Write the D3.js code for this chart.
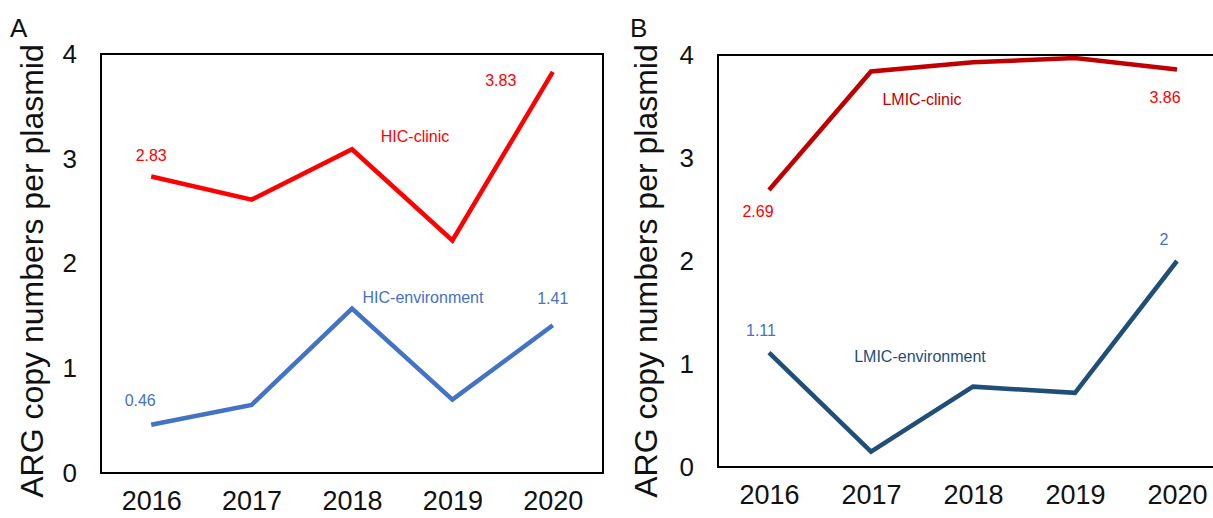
<!DOCTYPE html>
<html>
<head>
<meta charset="utf-8">
<script src="https://cdn.jsdelivr.net/npm/d3@7"></script>
<style>
  html, body { margin: 0; padding: 0; background: #fff; }
  svg { display: block; font-family: "Liberation Sans", Arial, sans-serif; }
</style>
</head>
<body>
<svg id="chart" width="1213" height="518"></svg>
<script>
// Years on the x axis and y tick values
const years = ["2016", "2017", "2018", "2019", "2020"];
const yTicks = [0, 1, 2, 3, 4];

// ARG copy numbers per plasmid
const hicClinic = [2.83, 2.61, 3.09, 2.22, 3.83];
const hicEnvironment = [0.46, 0.65, 1.57, 0.70, 1.41];
const lmicClinic = [2.69, 3.84, 3.93, 3.97, 3.86];
const lmicEnvironment = [1.11, 0.15, 0.78, 0.72, 2];

const svg = d3.select("#chart");
const FONT = "Liberation Sans, Arial, sans-serif";

function panel(opts) {
  const x = d3.scalePoint().domain(years).range([opts.left, opts.right]).padding(0.5);
  const y = d3.scaleLinear().domain([0, 4]).range([opts.bottom, opts.top]);
  const g = svg.append("g");

  // frame
  g.append("rect")
    .attr("x", opts.left).attr("y", opts.top)
    .attr("width", opts.right - opts.left).attr("height", opts.bottom - opts.top)
    .attr("fill", "none").attr("stroke", "#000").attr("stroke-width", 2);

  // y axis labels
  const yAxis = d3.axisLeft(y).tickValues(yTicks).tickFormat(d3.format("d"))
    .tickSize(0).tickPadding(opts.yPad);
  g.append("g").attr("transform", `translate(${opts.left},0)`).call(yAxis)
    .call(s => s.select(".domain").remove())
    .selectAll("text").attr("font-size", 26).attr("fill", "#111").attr("font-family", FONT);

  // x axis labels
  const xAxis = d3.axisBottom(x).tickSize(0).tickPadding(opts.xPad);
  g.append("g").attr("transform", `translate(0,${opts.bottom})`).call(xAxis)
    .call(s => s.select(".domain").remove())
    .selectAll("text").attr("font-size", 27).attr("fill", "#111").attr("font-family", FONT);

  // y axis title
  g.append("text")
    .attr("transform", `translate(${opts.titleX},271) rotate(-90)`)
    .attr("text-anchor", "middle").attr("font-size", 32).attr("fill", "#111")
    .text("ARG copy numbers per plasmid");

  // panel letter
  g.append("text").attr("x", opts.letterX).attr("y", 37)
    .attr("font-size", 26).attr("fill", "#111").text(opts.letter);

  const line = d3.line().x((d, i) => x(years[i])).y(d => y(d));
  opts.series.forEach(s => {
    g.append("path").datum(s.values)
      .attr("d", line).attr("fill", "none")
      .attr("stroke", s.color).attr("stroke-width", 4.5)
      .attr("stroke-linejoin", "miter").attr("stroke-linecap", "butt");
    s.labels.forEach(l => {
      const isValue = l.index != null;
      const v = isValue ? s.values[l.index] : null;
      g.append("text")
        .attr("x", isValue ? x(years[l.index]) + l.dx : l.x)
        .attr("y", isValue ? y(v) + l.dy : l.y)
        .attr("text-anchor", "middle").attr("font-size", 16)
        .attr("fill", l.color || s.color)
        .text(isValue ? String(v) : l.text);
    });
  });
}

panel({
  letter: "A", letterX: 10, titleX: 43,
  left: 101, right: 603, top: 54, bottom: 473, yPad: 24, xPad: 18,
  series: [
    { values: hicClinic, color: "#FF0000",
      labels: [
        { index: 0, dx: 0, dy: -16 },
        { index: 4, dx: -52, dy: 14 },
        { text: "HIC-clinic", x: 415, y: 142 }
      ] },
    { values: hicEnvironment, color: "#4472C4",
      labels: [
        { index: 0, dx: -11, dy: -19 },
        { index: 4, dx: 0, dy: -21 },
        { text: "HIC-environment", x: 423, y: 303 }
      ] }
  ]
});

panel({
  letter: "B", letterX: 630, titleX: 657,
  left: 718, right: 1228, top: 55, bottom: 467, yPad: 24, xPad: 18,
  series: [
    { values: lmicClinic, color: "#C00000",
      labels: [
        { index: 0, dx: -11, dy: 27, color: "#FF0000" },
        { index: 4, dx: -12, dy: 34, color: "#FF0000" },
        { text: "LMIC-clinic", x: 922, y: 105 }
      ] },
    { values: lmicEnvironment, color: "#1F4E79",
      labels: [
        { index: 0, dx: -8, dy: -17, color: "#4472C4" },
        { index: 4, dx: -13, dy: -16, color: "#4472C4" },
        { text: "LMIC-environment", x: 920, y: 362 }
      ] }
  ]
});
</script>
</body>
</html>
